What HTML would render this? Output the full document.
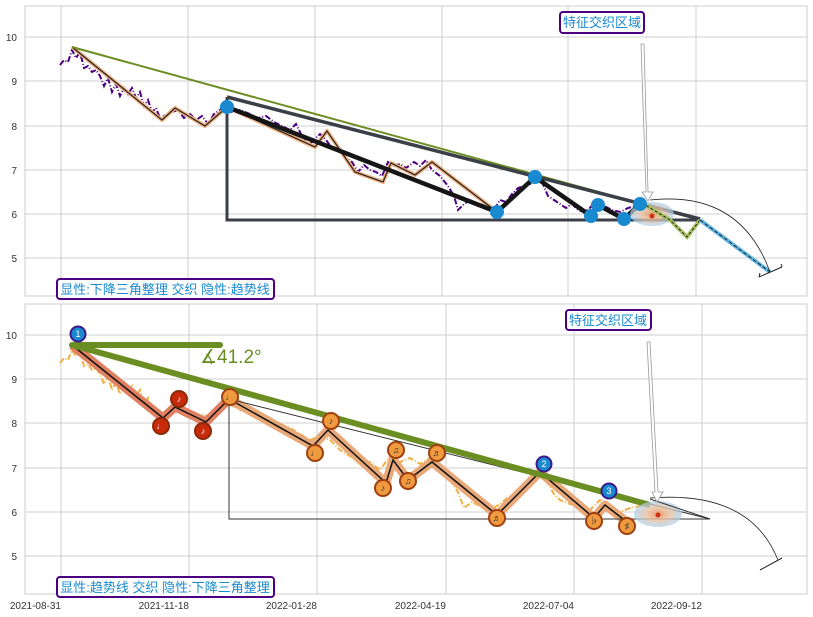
<!DOCTYPE html>
<html><head><meta charset="utf-8"><style>
body{margin:0;background:#fff}
svg{display:block}
text{font-family:"Liberation Sans","Noto Sans CJK SC",sans-serif}
</style></head><body>
<svg width="813" height="617" viewBox="0 0 813 617" xmlns="http://www.w3.org/2000/svg">
<defs>
<radialGradient id="eg"><stop offset="0" stop-color="#e8a070"/><stop offset="0.5" stop-color="#e8c0a0" stop-opacity="0.8"/><stop offset="1" stop-color="#a8d0ee" stop-opacity="0.7"/></radialGradient>
</defs>
<!-- TOP PANEL -->
<rect x="25" y="6" width="782" height="290" fill="#fff" stroke="#ccc"/>
<g stroke="#cfcfcf" stroke-width="1">
<line x1="61" y1="6" x2="61" y2="296"/><line x1="188" y1="6" x2="188" y2="296"/><line x1="315" y1="6" x2="315" y2="296"/><line x1="442" y1="6" x2="442" y2="296"/><line x1="568" y1="6" x2="568" y2="296"/><line x1="696" y1="6" x2="696" y2="296"/>
<line x1="25" y1="37" x2="807" y2="37"/><line x1="25" y1="81" x2="807" y2="81"/><line x1="25" y1="126" x2="807" y2="126"/><line x1="25" y1="170" x2="807" y2="170"/><line x1="25" y1="214" x2="807" y2="214"/><line x1="25" y1="258" x2="807" y2="258"/>
</g>
<g font-size="10" fill="#333" text-anchor="end">
<text x="17" y="41">10</text><text x="17" y="85">9</text><text x="17" y="130">8</text><text x="17" y="174">7</text><text x="17" y="218">6</text><text x="17" y="262">5</text>
</g>
<!-- price noisy purple -->
<polyline fill="none" stroke="#4b0082" stroke-width="2" stroke-dasharray="6,2,1,2" points="60,65 64,60 68,62 72,50 76,58 80,52 84,68 88,66 92,72 96,70 100,76 104,86 108,78 112,92 116,84 120,96 124,88 128,94 132,88 136,98 140,92 144,106 148,100 152,112 156,108 160,118 166,115 172,112 178,110 184,118 190,114 196,120 202,116 208,124 214,114 220,110 226,104 232,112 240,110 250,114 258,118 266,116 274,122 282,126 290,130 296,124 302,136 308,146 314,140 320,134 326,140 332,148 340,152 346,158 352,162 358,172 364,165 370,170 376,172 382,176 388,162 394,166 400,164 406,168 414,162 420,166 426,160 432,170 440,176 448,186 454,196 458,210 464,204 470,200 478,206 486,208 494,210 500,200 506,202 512,194 518,188 524,186 530,184 536,176 542,182 548,196 554,200 560,204 566,208 572,204 578,210 584,212 590,208 596,200 604,206 612,210 620,212 628,208 636,206 642,206"/>
<!-- thin zigzag with peach outline -->
<polyline fill="none" stroke="#f0b080" stroke-width="4" stroke-linejoin="round" points="72,47 162,120 175,108 205,126 227,107 315,147 327,131 355,172 383,182 391,163 415,175 432,162 497,212"/>
<polyline fill="none" stroke="#222" stroke-width="1.2" points="72,47 162,120 175,108 205,126 227,107 315,147 327,131 355,172 383,182 391,163 415,175 432,162 497,212"/>
<!-- green trendline -->
<line x1="72" y1="47" x2="642" y2="204" stroke="#6b8e23" stroke-width="2"/>
<!-- slate triangle -->
<polyline fill="none" stroke="#3a3f48" stroke-width="3" points="227,97 227,220 700,220"/>
<line x1="227" y1="97" x2="700" y2="219" stroke="#3a3f48" stroke-width="3.5"/>
<!-- thick black zigzag -->
<polyline fill="none" stroke="#151515" stroke-width="4.5" stroke-linejoin="round" points="227,107 497,212 535,177 591,216 598,205 624,219 640,204"/>
<!-- ellipse -->
<ellipse cx="652" cy="214" rx="22" ry="12" fill="url(#eg)"/>
<circle cx="652" cy="216" r="2.5" fill="#d03010"/>
<!-- after -->
<polyline fill="none" stroke="#a8c060" stroke-width="4" points="642,203 670,220 687,237 700,220"/>
<polyline fill="none" stroke="#222" stroke-width="1" stroke-dasharray="3,2" points="642,203 670,220 687,237 700,220"/>
<line x1="700" y1="220" x2="770" y2="272" stroke="#60b8e8" stroke-width="4"/>
<line x1="700" y1="220" x2="770" y2="272" stroke="#222" stroke-width="1" stroke-dasharray="4,2"/>
<path d="M650,200 Q740,190 770,272" fill="none" stroke="#222" stroke-width="0.8"/>
<line x1="759" y1="277" x2="782" y2="267" stroke="#222" stroke-width="1"/>
<line x1="759" y1="277" x2="760" y2="273" stroke="#222"/><line x1="782" y1="267" x2="781" y2="264" stroke="#222"/>
<!-- blue dots -->
<g fill="#1a8ad0">
<circle cx="227" cy="107" r="7"/><circle cx="497" cy="212" r="7"/><circle cx="535" cy="177" r="7"/><circle cx="591" cy="216" r="7"/><circle cx="598" cy="205" r="7"/><circle cx="624" cy="219" r="7"/><circle cx="640" cy="204" r="7"/>
</g>
<!-- arrow -->
<path d="M641,44 L644,44 L648,192 L653,192 L648,201 L642,192 L646,192 Z" fill="#fff" stroke="#999" stroke-width="0.8"/>
<rect x="560" y="12" width="84" height="21" rx="3" fill="#fff" stroke="#4b0082" stroke-width="2"/>
<text x="602" y="27" font-size="13" fill="#1a8ad0" text-anchor="middle">特征交织区域</text>
<rect x="57" y="279" width="217" height="20" rx="3" fill="#fff" stroke="#4b0082" stroke-width="2"/>
<text x="165" y="294" font-size="13" fill="#1a8ad0" text-anchor="middle">显性:下降三角整理 交织 隐性:趋势线</text>

<!-- BOTTOM PANEL -->
<rect x="25" y="304" width="782" height="290" fill="#fff" stroke="#ccc"/>
<g stroke="#cfcfcf" stroke-width="1">
<line x1="61" y1="304" x2="61" y2="594"/><line x1="189" y1="304" x2="189" y2="594"/><line x1="317" y1="304" x2="317" y2="594"/><line x1="446" y1="304" x2="446" y2="594"/><line x1="574" y1="304" x2="574" y2="594"/><line x1="702" y1="304" x2="702" y2="594"/>
<line x1="25" y1="335" x2="807" y2="335"/><line x1="25" y1="379" x2="807" y2="379"/><line x1="25" y1="423" x2="807" y2="423"/><line x1="25" y1="468" x2="807" y2="468"/><line x1="25" y1="512" x2="807" y2="512"/><line x1="25" y1="556" x2="807" y2="556"/>
</g>
<g font-size="10" fill="#333" text-anchor="end">
<text x="17" y="339">10</text><text x="17" y="383">9</text><text x="17" y="427">8</text><text x="17" y="472">7</text><text x="17" y="516">6</text><text x="17" y="560">5</text>
</g>
<g font-size="10" fill="#333" text-anchor="end">
<text x="61" y="609">2021-08-31</text><text x="189" y="609">2021-11-18</text><text x="317" y="609">2022-01-28</text><text x="446" y="609">2022-04-19</text><text x="574" y="609">2022-07-04</text><text x="702" y="609">2022-09-12</text>
</g>
<!-- orange noisy -->
<polyline fill="none" stroke="#f0b040" stroke-width="2" stroke-dasharray="6,2,1,2" points="60,363 64,358 68,360 72,350 76,356 80,352 84,366 88,364 92,370 96,368 100,374 104,384 108,376 112,390 116,382 120,394 124,386 128,392 132,386 136,396 140,390 144,404 148,398 152,410 160,414 170,410 178,408 186,416 196,418 204,414 212,420 220,410 230,404 240,410 250,412 260,416 270,418 280,424 290,428 300,434 310,440 320,436 330,440 340,450 350,456 360,464 370,462 380,470 390,456 400,462 410,458 420,464 430,458 440,470 450,480 458,492 464,508 472,502 480,506 490,510 500,504 510,496 520,490 530,484 540,474 548,484 554,494 560,500 570,504 580,506 590,510 600,500 610,506 620,512 630,508 640,506 650,506"/>
<!-- wide zigzag -->
<polyline fill="none" stroke="#e8a878" stroke-width="9" stroke-linejoin="round" points="229,399 313,446 328,430 386,483 393,460 408,480 432,462 497,515 540,472 594,518 605,505 627,522"/>
<polyline fill="none" stroke="#e08060" stroke-width="9" stroke-linejoin="round" points="72,345 163,418 175,407 206,422 229,399"/>
<polyline fill="none" stroke="#111" stroke-width="1.5" points="72,345 163,418 175,407 206,422 229,399 313,446 328,430 386,483 393,460 408,480 432,462 497,515 540,472 594,518 605,505 627,522"/>
<!-- triangle thin -->
<polyline fill="none" stroke="#333" stroke-width="1" points="229,399 229,519 710,519 229,399"/>
<!-- green lines -->
<line x1="72" y1="345" x2="220" y2="345" stroke="#6b8e23" stroke-width="6" stroke-linecap="round"/>
<line x1="72" y1="345" x2="650" y2="505" stroke="#6b8e23" stroke-width="6"/>
<text x="200" y="363" font-size="19" fill="#6b8e23">∡41.2°</text>
<!-- ellipse -->
<ellipse cx="658" cy="514" rx="24" ry="13" fill="url(#eg)"/>
<circle cx="658" cy="515" r="2.5" fill="#d03010"/>
<line x1="650" y1="499" x2="710" y2="519" stroke="#333" stroke-width="1"/>
<path d="M650,498 Q750,490 778,560" fill="none" stroke="#222" stroke-width="0.8"/>
<line x1="760" y1="570" x2="782" y2="558" stroke="#222" stroke-width="1"/>
<path d="M647,342 L650,342 L658,492 L663,492 L657,502 L652,492 L655,492 Z" fill="#fff" stroke="#999" stroke-width="0.8"/>
<!-- markers -->
<g stroke="#8a2a08" stroke-width="2" font-size="9" text-anchor="middle">
<circle cx="161" cy="426" r="8" fill="#c82a0a"/><circle cx="179" cy="399" r="8" fill="#c82a0a"/><circle cx="203" cy="431" r="8" fill="#c82a0a"/>
<g fill="#f09a40" stroke="#a04010">
<circle cx="230" cy="397" r="8"/><circle cx="315" cy="453" r="8"/><circle cx="331" cy="421" r="8"/><circle cx="383" cy="488" r="8"/><circle cx="396" cy="450" r="8"/><circle cx="408" cy="481" r="8"/><circle cx="437" cy="453" r="8"/><circle cx="497" cy="518" r="8"/><circle cx="594" cy="521" r="8"/><circle cx="627" cy="526" r="8"/>
</g>
</g>
<g font-size="9" text-anchor="middle">
<text x="161" y="429" fill="#fff">♩</text><text x="179" y="402" fill="#fff">♪</text><text x="203" y="434" fill="#fff">♪</text>
<text x="230" y="400" fill="#333">♩</text><text x="315" y="456" fill="#333">♩</text><text x="331" y="424" fill="#333">♪</text><text x="383" y="491" fill="#333">♪</text><text x="396" y="453" fill="#333">♫</text><text x="408" y="484" fill="#333">♫</text><text x="437" y="456" fill="#333">♬</text><text x="497" y="521" fill="#333">♬</text><text x="594" y="524" fill="#333">♭</text><text x="627" y="529" fill="#333">♯</text>
</g>
<g stroke="#3a1a8a" stroke-width="2" fill="#1a8ad0">
<circle cx="78" cy="334" r="7.5"/><circle cx="544" cy="464" r="7.5"/><circle cx="609" cy="491" r="7.5"/>
</g>
<g font-size="9" fill="#fff" text-anchor="middle">
<text x="78" y="337">1</text><text x="544" y="467">2</text><text x="609" y="494">3</text>
</g>
<rect x="566" y="310" width="85" height="20" rx="3" fill="#fff" stroke="#4b0082" stroke-width="2"/>
<text x="608" y="325" font-size="13" fill="#1a8ad0" text-anchor="middle">特征交织区域</text>
<rect x="57" y="577" width="217" height="20" rx="3" fill="#fff" stroke="#4b0082" stroke-width="2"/>
<text x="165" y="592" font-size="13" fill="#1a8ad0" text-anchor="middle">显性:趋势线 交织 隐性:下降三角整理</text>
</svg>
</body></html>
